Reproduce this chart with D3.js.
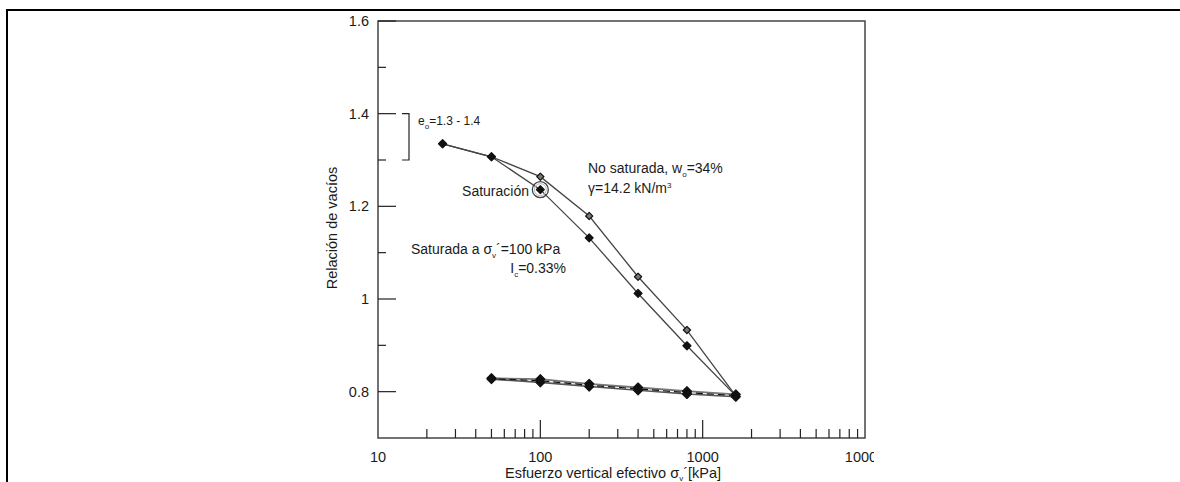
<!DOCTYPE html>
<html>
<head>
<meta charset="utf-8">
<script src="https://cdn.jsdelivr.net/npm/d3@7"></script>
<style>
  body { margin: 0; background: #fff; }
  svg { display: block; font-family: "Liberation Sans", Arial, sans-serif; }
  text { fill: #1b1b1b; }
</style>
</head>
<body>
<div class="chart"></div>
<script>
'use strict';

// stresses in kPa
const loadStress = [25, 50, 100, 200, 400, 800, 1600];
const unloadStress = [1600, 800, 400, 200, 100, 50];

// void ratio, loading
const eUnsat = [1.335, 1.307, 1.264, 1.179, 1.048, 0.933, 0.791];
const eSat = [1.335, 1.307, 1.236, 1.132, 1.012, 0.899, 0.791];

// void ratio, unloading (the two tests nearly overlap)
const eUnloadA = [0.794, 0.801, 0.809, 0.817, 0.827, 0.829];
const eUnloadB = [0.789, 0.795, 0.803, 0.811, 0.820, 0.827];

const yMajor = [0.8, 1.0, 1.2, 1.4, 1.6];
const yMinor = [0.9, 1.1, 1.3, 1.5];
const yLabels = ['0.8', '1', '1.2', '1.4', '1.6'];
const xMajor = [10, 100, 1000, 10000];
const xLabels = ['10', '100', '1000', '10000'];

const W = 1180, H = 482;
const margin = {top: 21, right: 315, bottom: 44, left: 378};
const width = W - margin.left - margin.right;
const height = H - margin.top - margin.bottom;

const xScale = d3.scaleLog().domain([10, 10000]).range([0, width]);
const yScale = d3.scaleLinear().domain([0.7, 1.6]).range([height, 0]);

const svg = d3.select('.chart').append('svg')
    .attr('width', W)
    .attr('height', H);

// table cell border
svg.append('line').attr('x1', 7).attr('x2', W).attr('y1', 10).attr('y2', 10)
    .attr('stroke', '#000').attr('stroke-width', 2);
svg.append('line').attr('x1', 7).attr('x2', 7).attr('y1', 9).attr('y2', H)
    .attr('stroke', '#000').attr('stroke-width', 2);

svg.append('clipPath').attr('id', 'cell')
    .append('rect').attr('x', 0).attr('y', 0).attr('width', 874).attr('height', H);

const g = svg.append('g')
    .attr('transform', `translate(${margin.left},${margin.top})`);

// frame
g.append('rect')
    .attr('width', width).attr('height', height)
    .attr('fill', 'none').attr('stroke', '#444').attr('stroke-width', 1.5);

// y ticks (inward)
g.selectAll('.ymaj').data(yMajor).enter().append('line')
    .attr('x1', 0).attr('x2', 18)
    .attr('y1', d => yScale(d)).attr('y2', d => yScale(d))
    .attr('stroke', '#222').attr('stroke-width', 1.2);
g.selectAll('.ymin').data(yMinor).enter().append('line')
    .attr('x1', 0).attr('x2', 8)
    .attr('y1', d => yScale(d)).attr('y2', d => yScale(d))
    .attr('stroke', '#222').attr('stroke-width', 1.2);
g.selectAll('.ylab').data(yMajor).enter().append('text')
    .attr('x', -9).attr('y', d => yScale(d))
    .attr('dy', '0.35em')
    .attr('text-anchor', 'end')
    .style('font-size', '14.5px')
    .text((d, i) => yLabels[i]);

// x ticks (inward, log)
const xMinor = [];
[10, 100, 1000].forEach(dec => {
    for (let k = 2; k <= 9; k++) xMinor.push(dec * k);
});
g.selectAll('.xmin').data(xMinor).enter().append('line')
    .attr('x1', d => xScale(d)).attr('x2', d => xScale(d))
    .attr('y1', height).attr('y2', height - 9)
    .attr('stroke', '#222').attr('stroke-width', 1.2);
g.selectAll('.xmaj').data([100, 1000]).enter().append('line')
    .attr('x1', d => xScale(d)).attr('x2', d => xScale(d))
    .attr('y1', height).attr('y2', height - 18)
    .attr('stroke', '#222').attr('stroke-width', 1.2);
svg.append('g')
    .attr('clip-path', 'url(#cell)')
    .selectAll('text').data(xMajor).enter().append('text')
    .attr('x', d => margin.left + xScale(d))
    .attr('y', margin.top + height + 19)
    .attr('dy', '0.35em')
    .attr('text-anchor', 'middle')
    .style('font-size', '14.5px')
    .text((d, i) => xLabels[i]);

// axis titles
const xt = svg.append('text')
    .attr('x', 613).attr('y', 473).attr('dy', '0.35em')
    .attr('text-anchor', 'middle')
    .style('font-size', '14.5px');
xt.append('tspan').text('Esfuerzo vertical efectivo σ');
xt.append('tspan').attr('dy', '3').style('font-size', '8px').text('v');
xt.append('tspan').attr('dy', '-3').text('´[kPa]');

svg.append('text')
    .attr('transform', 'translate(332,228) rotate(-90)')
    .attr('dy', '0.35em')
    .attr('text-anchor', 'middle')
    .style('font-size', '14.5px')
    .text('Relación de vacíos');

// curves
const line = d3.line()
    .x(d => xScale(d[0]))
    .y(d => yScale(d[1]));

function pairs(xs, ys) {
    return xs.map((x, i) => [x, ys[i]]);
}

const series = [
    {pts: pairs(unloadStress, eUnloadA), stroke: '#777', width: 1.8, fill: '#111', size: 40},
    {pts: pairs(unloadStress, eUnloadB), stroke: '#555', width: 1.6, fill: '#111', size: 40},
    {pts: pairs(loadStress, eUnsat), stroke: '#444', width: 1.3, fill: '#777', size: 26},
    {pts: pairs(loadStress, eSat), stroke: '#444', width: 1.3, fill: '#111', size: 32}
];

series.forEach(s => {
    g.append('path')
        .datum(s.pts)
        .attr('fill', 'none')
        .attr('stroke', s.stroke)
        .attr('stroke-width', s.width)
        .attr('d', line);
});

// dashed core along the unloading band
g.append('path')
    .datum(pairs(unloadStress, eUnloadA.map((v, i) => (v + eUnloadB[i]) / 2)))
    .attr('fill', 'none')
    .attr('stroke', '#111')
    .attr('stroke-width', 1.2)
    .attr('stroke-dasharray', '7,4')
    .attr('d', line);

series.forEach(s => {
    g.selectAll(null).data(s.pts).enter().append('path')
        .attr('transform', d => `translate(${xScale(d[0])},${yScale(d[1])}) rotate(45)`)
        .attr('d', d3.symbol(d3.symbolSquare, s.size))
        .attr('fill', s.fill)
        .attr('stroke', '#111')
        .attr('stroke-width', 1.2)
        .attr('stroke-linejoin', 'round');
});

// saturation circle
const satX = xScale(100), satY = yScale(eSat[2]);
g.append('circle').attr('cx', satX).attr('cy', satY).attr('r', 8)
    .attr('fill', 'none').attr('stroke', '#444').attr('stroke-width', 1.3);
g.append('circle').attr('cx', satX).attr('cy', satY).attr('r', 6)
    .attr('fill', 'none').attr('stroke', '#bbb').attr('stroke-width', 1);

// e0 bracket
const bx = 31;
g.append('path')
    .attr('d', `M${bx - 7},${yScale(1.4)}H${bx}V${yScale(1.3)}H${bx - 7}`)
    .attr('fill', 'none').attr('stroke', '#222').attr('stroke-width', 1.2);

// annotations
function note(x, y, parts, anchor) {
    const t = svg.append('text')
        .attr('x', x).attr('y', y).attr('dy', '0.35em')
        .attr('text-anchor', anchor || 'start')
        .style('font-size', '14px');
    parts.forEach(p => {
        const sp = t.append('tspan').text(p[0]);
        if (p[1] === 'sub') sp.attr('dy', 4).style('font-size', '8px');
        if (p[1] === 'sup') sp.attr('dy', -5).style('font-size', '8px');
        if (p[1] === 'back') sp.attr('dy', p[2]);
    });
    return t;
}

note(418, 121, [['e'], ['o', 'sub'], ['=1.3 - 1.4', 'back', -4]]).style('font-size', '12px');
note(588, 168, [['No saturada, w'], ['o', 'sub'], ['=34%', 'back', -4]]);
note(588, 188, [['γ=14.2 kN/m'], ['3', 'sup']]);
note(529, 191, [['Saturación']], 'end');
note(411, 249, [['Saturada a σ'], ['v', 'sub'], ['´=100 kPa', 'back', -4]]);
note(566, 268, [['I'], ['c', 'sub'], ['=0.33%', 'back', -4]], 'end');
</script>
</body>
</html>
